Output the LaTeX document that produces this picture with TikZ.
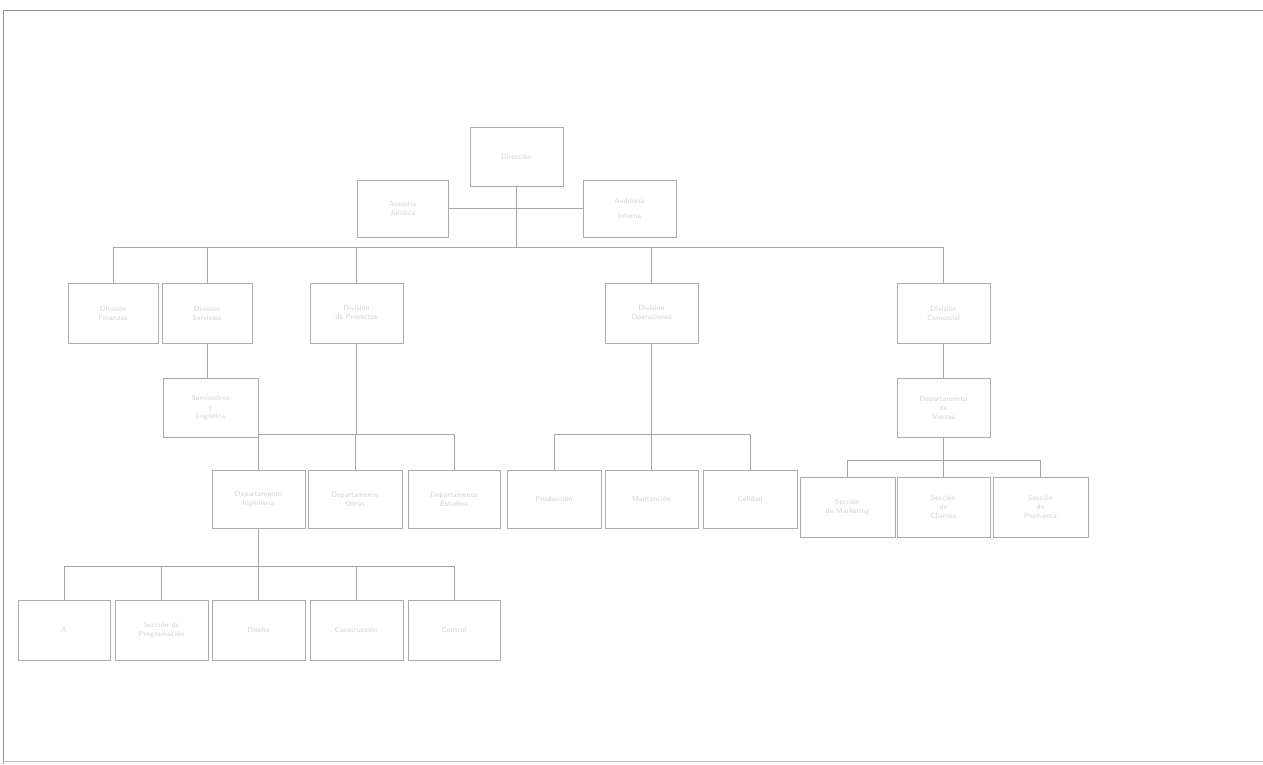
\documentclass[tikz,border=0pt]{standalone}
\begin{document}
\begin{tikzpicture}[x=1pt,y=-1pt,
  orgbox/.style={draw=gray!65, line width=0.5pt, minimum height=59pt, minimum width=93pt,
    inner sep=1pt, align=center, text=gray!35, font=\sffamily\fontsize{7.5}{9}\selectfont},
  wide/.style={minimum width=95pt},
  narrow/.style={minimum width=90pt},
  link/.style={draw=gray!70, line width=0.5pt},
  frame/.style={draw=gray!85, line width=0.8pt}]
\useasboundingbox (0,0) rectangle (1263,764);
% frame
\coordinate (fTL) at (3,10);
\coordinate (fTR) at (1263,10);
\coordinate (fBL) at (3,764);
\coordinate (fB1) at (3,761);
\coordinate (fB2) at (1263,761);
\draw[frame] (fBL) -- (fTL) -- (fTR);
\draw[draw=gray!50, line width=0.6pt] (fB1) -- (fB2);

% top level
\node[orgbox] (top) at (516.5,156.5) {Dirección};
\node[orgbox, minimum width=91pt, minimum height=57pt] (sl) at (402.5,208.5) {Asesoría\\Jurídica};
\node[orgbox, minimum height=57pt] (sr) at (629.5,208.5) {Auditoría\\[6pt]Interna};
\draw[link] (sl.east) -- (sr.west);

% bus 1
\coordinate (b1L) at (114,247);
\coordinate (b1R) at (943,247);
\draw[link] (b1L) -- (b1R);
\draw[link] (top.south) -- (top.south |- b1L);

% level 3
\node[orgbox, narrow, minimum height=60pt] (A) at (113,313) {División\\Finanzas};
\node[orgbox, narrow, minimum height=60pt] (B) at (207,313) {División\\Servicios};
\node[orgbox, minimum height=60pt] (C) at (356.5,313) {División\\de Proyectos};
\node[orgbox, minimum height=60pt] (D) at (651.5,313) {División\\Operaciones};
\node[orgbox, minimum height=60pt] (E) at (943.5,313) {División\\Comercial};
\foreach \n in {A,B,C,D,E} \draw[link] (\n.north |- b1L) -- (\n.north);

% children of B and E
\node[orgbox, wide] (Bc) at (210.5,407.5) {Suministros\\y\\Logística};
\node[orgbox] (Ec) at (943.5,407.5) {Departamento\\de\\Ventas};
\draw[link] (B.south) -- (B.south |- Bc.north);
\draw[link] (E.south) -- (Ec.north);

% C group
\coordinate (b2L) at (258,434);
\coordinate (b2R) at (455,434);
\node[orgbox, minimum height=58pt] (c1) at (258.5,499) {Departamento\\Ingeniería};
\node[orgbox, minimum width=94pt, minimum height=58pt] (c2) at (355,499) {Departamento\\Obras};
\node[orgbox, minimum width=92pt, minimum height=58pt] (c3) at (454,499) {Departamento\\Estudios};
\draw[link] (b2L) -- (b2R);
\draw[link] (C.south) -- (C.south |- b2L);
\foreach \n in {c1,c2,c3} \draw[link] (\n.north |- b2L) -- (\n.north);

% D group
\coordinate (b3L) at (554,434);
\coordinate (b3R) at (750,434);
\node[orgbox, minimum width=94pt, minimum height=58pt] (d1) at (554,499) {Producción};
\node[orgbox, minimum height=58pt] (d2) at (651.5,499) {Mantención};
\node[orgbox, minimum width=94pt, minimum height=58pt] (d3) at (750,499) {Calidad};
\draw[link] (b3L) -- (b3R);
\draw[link] (D.south) -- (D.south |- b3L);
\foreach \n in {d1,d2,d3} \draw[link] (\n.north |- b3L) -- (\n.north);

% E group
\coordinate (b4L) at (847.5,460);
\coordinate (b4R) at (1040.5,460);
\node[orgbox, wide, minimum height=60pt] (e1) at (847.5,507) {Sección\\de Marketing};
\node[orgbox, minimum height=60pt] (e2) at (943.5,507) {Sección\\de\\Clientes};
\node[orgbox, wide, minimum height=60pt] (e3) at (1040.5,507) {Sección\\de\\Postventa};
\draw[link] (b4L) -- (b4R);
\draw[link] (Ec.south) -- (Ec.south |- b4L);
\foreach \n in {e1,e2,e3} \draw[link] (\n.north |- b4L) -- (\n.north);

% bottom group under c1
\coordinate (b5L) at (64,566);
\coordinate (b5R) at (454,566);
\node[orgbox, minimum width=92pt, minimum height=60pt] (f1) at (64,630) {A};
\node[orgbox, minimum height=60pt] (f2) at (161.5,630) {Sección de\\Programación};
\node[orgbox, minimum height=60pt] (f3) at (258.5,630) {Diseño};
\node[orgbox, minimum height=60pt] (f4) at (356.5,630) {Construcción};
\node[orgbox, minimum width=92pt, minimum height=60pt] (f5) at (454,630) {Control};
\draw[link] (b5L) -- (b5R);
\draw[link] (c1.south) -- (c1.south |- b5L);
\foreach \n in {f1,f2,f3,f4,f5} \draw[link] (\n.north |- b5L) -- (\n.north);
\end{tikzpicture}
\end{document}
